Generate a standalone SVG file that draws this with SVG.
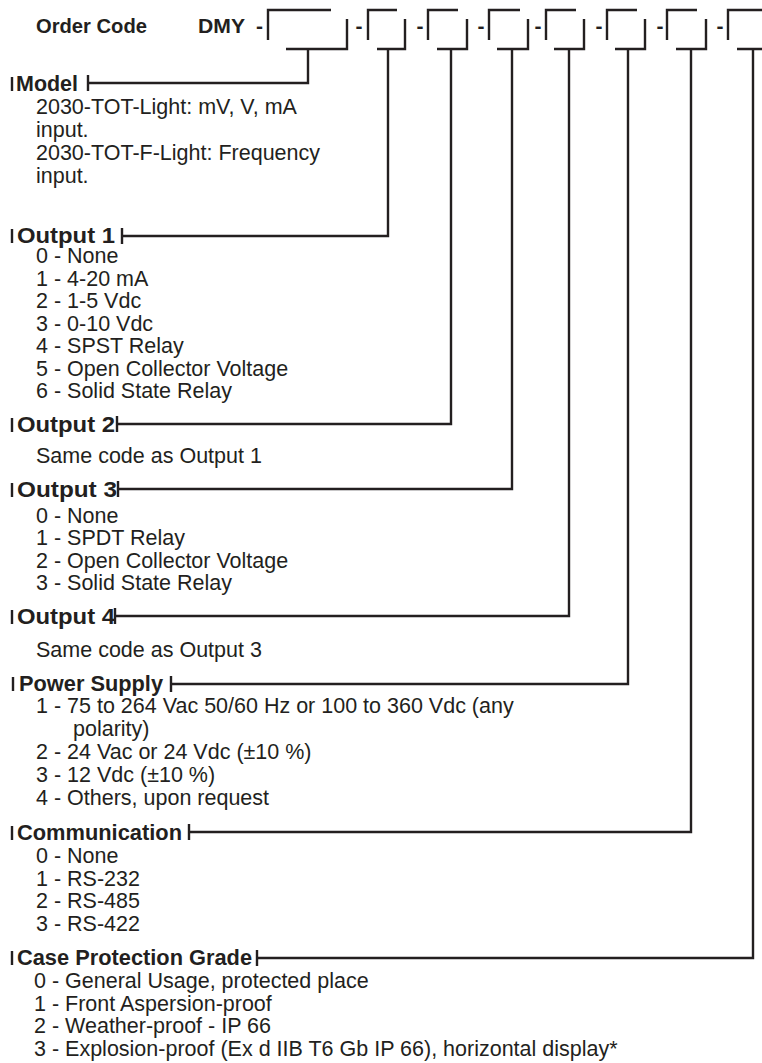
<svg xmlns="http://www.w3.org/2000/svg" width="762" height="1063" viewBox="0 0 762 1063">
<style>
text{font-family:"Liberation Sans",Arial,sans-serif;fill:#231f20}
.h{font-weight:bold;font-size:22.5px}
.b{font-size:21.5px}
.t{font-weight:bold;font-size:21px}
.ln{fill:none;stroke:#231f20;stroke-width:2.4;stroke-linecap:butt;stroke-linejoin:miter}
</style>
<rect width="762" height="1063" fill="#ffffff"/>
<g id="order-code">
<text class="t" x="36" y="33" textLength="111" lengthAdjust="spacingAndGlyphs">Order Code</text>
<text class="t" x="198" y="33" font-size="22" textLength="47" lengthAdjust="spacingAndGlyphs">DMY</text>
<text class="t" x="259.5" y="33" text-anchor="middle">-</text>
<text class="t" x="359" y="33" text-anchor="middle">-</text>
<text class="t" x="420" y="33" text-anchor="middle">-</text>
<text class="t" x="481" y="33" text-anchor="middle">-</text>
<text class="t" x="538" y="33" text-anchor="middle">-</text>
<text class="t" x="599" y="33" text-anchor="middle">-</text>
<text class="t" x="660" y="33" text-anchor="middle">-</text>
<text class="t" x="720" y="33" text-anchor="middle">-</text>
<path class="ln" d="M268,40V10H331M347,19V49H286"/>
<path class="ln" d="M368,40V10H397M405,19V49H377"/>
<path class="ln" d="M428,40V10H458M467,19V49H437"/>
<path class="ln" d="M489,40V10H520M528,19V49H497"/>
<path class="ln" d="M546,40V10H576M584,19V49H554"/>
<path class="ln" d="M607,40V10H637M645,19V49H615"/>
<path class="ln" d="M667,40V10H697M706,19V49H676"/>
<path class="ln" d="M728,40V10H764M764,49H737"/>
</g>
<g id="connectors">
<path class="ln" d="M308,49V83H88"/>
<path class="ln" d="M388,49V236H122"/>
<path class="ln" d="M451,49V424H117"/>
<path class="ln" d="M512,49V489H118"/>
<path class="ln" d="M569,49V616H115"/>
<path class="ln" d="M628,49V684H171"/>
<path class="ln" d="M691,49V832H189"/>
<path class="ln" d="M753,49V958H257"/>
</g>
<g id="model">
<path class="ln" d="M12,77V91M88,75V91"/>
<text class="h" x="16" y="91" textLength="62" lengthAdjust="spacingAndGlyphs">Model</text>
<text class="b" x="36" y="114">2030-TOT-Light: mV, V, mA</text>
<text class="b" x="36" y="137">input.</text>
<text class="b" x="36" y="160">2030-TOT-F-Light: Frequency</text>
<text class="b" x="36" y="183">input.</text>
</g>
<g id="output1">
<path class="ln" d="M12,229V243M122,228V244"/>
<text class="h" x="17" y="243" textLength="98" lengthAdjust="spacingAndGlyphs">Output 1</text>
<text class="b" x="36" y="263">0 - None</text>
<text class="b" x="36" y="285.5">1 - 4-20 mA</text>
<text class="b" x="36" y="308">2 - 1-5 Vdc</text>
<text class="b" x="36" y="330.5">3 - 0-10 Vdc</text>
<text class="b" x="36" y="353">4 - SPST Relay</text>
<text class="b" x="36" y="375.5">5 - Open Collector Voltage</text>
<text class="b" x="36" y="398">6 - Solid State Relay</text>
</g>
<g id="output2">
<path class="ln" d="M12,418V432M117,416V432"/>
<text class="h" x="17" y="432" textLength="98" lengthAdjust="spacingAndGlyphs">Output 2</text>
<text class="b" x="36" y="463">Same code as Output 1</text>
</g>
<g id="output3">
<path class="ln" d="M12,483V497M118,481V497"/>
<text class="h" x="17" y="497" textLength="100" lengthAdjust="spacingAndGlyphs">Output 3</text>
<text class="b" x="36" y="523">0 - None</text>
<text class="b" x="36" y="545">1 - SPDT Relay</text>
<text class="b" x="36" y="567.5">2 - Open Collector Voltage</text>
<text class="b" x="36" y="590">3 - Solid State Relay</text>
</g>
<g id="output4">
<path class="ln" d="M12,610V624M115,608V624"/>
<text class="h" x="17" y="624" textLength="98" lengthAdjust="spacingAndGlyphs">Output 4</text>
<text class="b" x="36" y="657">Same code as Output 3</text>
</g>
<g id="power-supply">
<path class="ln" d="M13,677V691M171,676V692"/>
<text class="h" x="19" y="691" textLength="144" lengthAdjust="spacingAndGlyphs">Power Supply</text>
<text class="b" x="36" y="713">1 - 75 to 264 Vac 50/60 Hz or 100 to 360 Vdc (any</text>
<text class="b" x="73" y="736">polarity)</text>
<text class="b" x="36" y="759">2 - 24 Vac or 24 Vdc (±10 %)</text>
<text class="b" x="36" y="782">3 - 12 Vdc (±10 %)</text>
<text class="b" x="36" y="805">4 - Others, upon request</text>
</g>
<g id="communication">
<path class="ln" d="M12,826V840M189,824V840"/>
<text class="h" x="17" y="840" textLength="165" lengthAdjust="spacingAndGlyphs">Communication</text>
<text class="b" x="36" y="863">0 - None</text>
<text class="b" x="36" y="885.5">1 - RS-232</text>
<text class="b" x="36" y="908">2 - RS-485</text>
<text class="b" x="36" y="930.5">3 - RS-422</text>
</g>
<g id="case-protection-grade">
<path class="ln" d="M12,951V965M257,950V966"/>
<text class="h" x="17" y="965" textLength="235" lengthAdjust="spacingAndGlyphs">Case Protection Grade</text>
<text class="b" x="34" y="988">0 - General Usage, protected place</text>
<text class="b" x="34" y="1010.5">1 - Front Aspersion-proof</text>
<text class="b" x="34" y="1033">2 - Weather-proof - IP 66</text>
<text class="b" x="34" y="1055.5">3 - Explosion-proof (Ex d IIB T6 Gb IP 66), horizontal display*</text>
</g>
</svg>
